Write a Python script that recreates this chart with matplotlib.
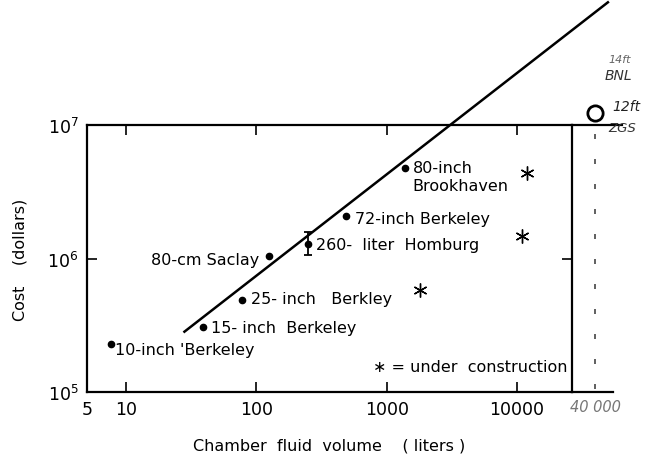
import matplotlib
matplotlib.use("Agg")
import matplotlib.pyplot as plt
from matplotlib.ticker import NullLocator

# chambers (liters, dollars)
names = ["10-inch 'Berkeley", "15- inch  Berkeley", "25- inch   Berkley", "80-cm Saclay",
         "260-  liter  Homburg", "72-inch Berkeley", "80-inch\nBrookhaven"]
volume = [7.6, 39, 77, 124, 250, 490, 1375]
cost = [2.3e5, 3.05e5, 4.9e5, 1.04e6, 1.29e6, 2.08e6, 4.8e6]
hamburg_err_lo = 0.22e6
hamburg_err_hi = 0.28e6

# under construction
uc_volume = [11900, 10900, 1800]
uc_cost = [4.35e6, 1.48e6, 5.8e5]

# fitted line
fit_x = [28, 50000]
fit_y = [2.83e5, 8.3e7]

# handwritten extras
zgs_volume = 40000
zgs_cost = 1.23e7

xticks = [5, 10, 100, 1000, 10000]
xticklabels = ["5", "10", "100", "1000", "10000"]

# label offsets in pixels (dx, dy, ha)
offsets = [(4, -6, "left"), (8, 0, "left"), (9, 1, "left"), (-9, -3, "right"),
           (8, -1, "left"), (9, -2, "left"), (8, -9, "left")]

plt.rcParams["font.family"] = ["DejaVu Sans"]

fig = plt.figure(figsize=(6.52, 4.64), dpi=100)
ax = fig.add_axes([87 / 652, 1 - 393 / 464, (572 - 87) / 652, (393 - 126) / 464])
ax.set_xscale("log")
ax.set_yscale("log")
ax.set_xlim(5, 26500)
ax.set_ylim(1e5, 1e7)

ax.plot(fit_x, fit_y, color="black", lw=1.8, clip_on=False, zorder=2)
ax.plot(volume, cost, "o", color="black", ms=4.5, zorder=3)
ax.errorbar([volume[4]], [cost[4]], yerr=[[hamburg_err_lo], [hamburg_err_hi]],
            fmt="none", ecolor="black", elinewidth=1.3, capsize=3, capthick=1.3)
ax.plot(uc_volume, uc_cost, marker=(6, 2, 0), ls="none", color="black", ms=10, mew=1.0)

for n, x, y, (dx, dy, ha) in zip(names, volume, cost, offsets):
    ax.annotate(n, (x, y), xytext=(dx, dy), textcoords="offset pixels",
                ha=ha, va="center", fontsize=11.5, linespacing=1.25)

ax.text(0.99, 0.095, "\u2217 = under  construction", transform=ax.transAxes,
        ha="right", va="center", fontsize=11.5)

ax.set_xticks(xticks, labels=xticklabels)
ax.xaxis.set_minor_locator(NullLocator())
ax.yaxis.set_minor_locator(NullLocator())
ax.tick_params(which="major", direction="in", top=True, right=True, length=7,
               width=1.2, labelsize=12.5, pad=6)
for s in ax.spines.values():
    s.set_linewidth(1.6)

ax.set_ylabel("Cost    (dollars)", fontsize=11.5, labelpad=14)
ax.set_xlabel("Chamber  fluid  volume    ( liters )", fontsize=11.5, labelpad=14)

# pencil additions outside the box
ax.plot([26500, 64000], [1.0e7, 1.0e7], color="black", lw=1.6, clip_on=False)
ax.plot([26500, 54700], [1.0e5, 1.0e5], color="black", lw=1.6, clip_on=False)
ax.plot([zgs_volume, zgs_volume], [1.05e5, 0.93e7], color="#444444", lw=1.2,
        ls=(0, (3, 12)), clip_on=False)
ax.plot([zgs_volume], [zgs_cost], "o", mfc="none", mec="black", ms=11, mew=2,
        clip_on=False)
ax.text(zgs_volume, 0.88e5, "40 000", ha="center", va="top", fontsize=10.5,
        style="italic", color="#777777", clip_on=False)

fig.text(620 / 652, 1 - 60 / 464, "14ft", fontsize=8, style="italic", color="#666666",
         ha="center", va="center")
fig.text(618 / 652, 1 - 76 / 464, "BNL", fontsize=10, style="italic", color="#333333",
         ha="center", va="center")
fig.text(626 / 652, 1 - 107 / 464, "12ft", fontsize=10, style="italic", color="#222222",
         ha="center", va="center")
fig.text(622 / 652, 1 - 129 / 464, "ZGS", fontsize=9.5, style="italic", color="#333333",
         ha="center", va="center")

fig.savefig("out.png", dpi=100)
